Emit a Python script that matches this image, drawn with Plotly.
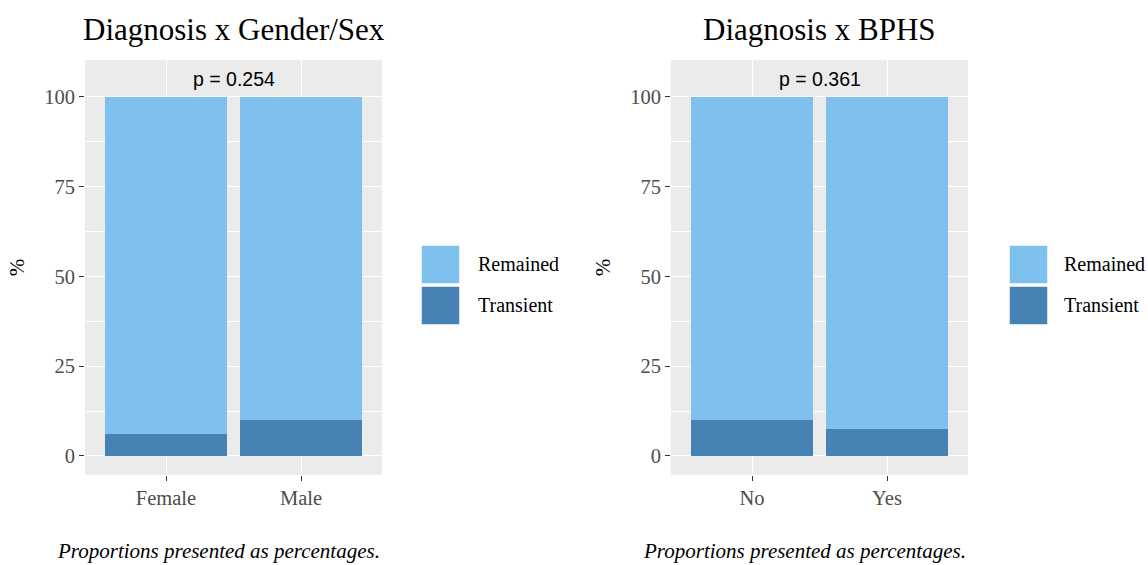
import plotly.graph_objects as go

W, H = 1148, 565

# ---- data ----
titles = ["Diagnosis x Gender/Sex", "Diagnosis x BPHS"]
categories_left = ["Female", "Male"]
categories_right = ["No", "Yes"]
transient_left = [6.0, 10.0]
transient_right = [10.0, 7.4]
remained_left = [100 - v for v in transient_left]
remained_right = [100 - v for v in transient_right]
p_labels = ["p = 0.254", "p = 0.361"]
p_label_y = [105, 105]
y_ticks = [0, 25, 50, 75, 100]
legend_labels = ["Remained", "Transient"]
caption = "Proportions presented as percentages."

C_REM = "#7EC0EE"
C_TRA = "#4682B4"
SERIF = "Liberation Serif, Times New Roman, serif"
SANS = "Liberation Sans, Arial, sans-serif"


def fx(px):
    return px / W


def fy(py):
    return 1 - py / H


panels = [
    dict(x0=85, x1=382, cats=categories_left, rem=remained_left, tra=transient_left, leg_key=421, leg_txt=476),
    dict(x0=671, x1=968, cats=categories_right, rem=remained_right, tra=transient_right, leg_key=1009, leg_txt=1062),
]
PT, PB = 60.2, 474.8

fig = go.Figure()
annotations = []
shapes = []
for i, p in enumerate(panels):
    n = "" if i == 0 else str(i + 1)
    xa, ya = "x" + n, "y" + n
    fig.add_trace(go.Bar(x=p["cats"], y=p["tra"], name=legend_labels[1], marker_color=C_TRA,
                         marker_line_width=0, width=0.9, xaxis=xa, yaxis=ya, showlegend=False))
    fig.add_trace(go.Bar(x=p["cats"], y=p["rem"], name=legend_labels[0], marker_color=C_REM,
                         marker_line_width=0, width=0.9, xaxis=xa, yaxis=ya, showlegend=False))
    axis_common = dict(showline=False, zeroline=False, ticks="outside", ticklen=5, tickwidth=1.1,
                       tickcolor="#333333", tickfont=dict(family=SERIF, size=20.5, color="#4D4D4D"),
                       gridcolor="white", gridwidth=1.2)
    fig.update_layout(**{
        "xaxis" + n: dict(domain=[fx(p["x0"]), fx(p["x1"])], type="category", range=[-0.6, 1.6],
                          anchor=ya, showgrid=True, **axis_common),
        "yaxis" + n: dict(domain=[fy(PB), fy(PT)], range=[-5.25, 110.25], anchor=xa,
                          tickvals=y_ticks, showgrid=True,
                          minor=dict(dtick=12.5, tick0=0, showgrid=True, gridcolor="white", gridwidth=0.6, ticks=""),
                          title=dict(text="%", font=dict(family=SERIF, size=21, color="black"), standoff=13),
                          **axis_common),
    })
    cx = (p["x0"] + p["x1"]) / 2
    annotations.append(dict(text=titles[i], x=fx(cx), y=fy(30), xref="paper", yref="paper",
                            showarrow=False, xanchor="center", yanchor="middle",
                            font=dict(family=SERIF, size=31, color="black")))
    annotations.append(dict(text=p_labels[i], x=0.5, y=p_label_y[i], xref=xa, yref=ya,
                            showarrow=False, xanchor="center", yanchor="middle",
                            font=dict(family=SANS, size=19.5, color="black")))
    annotations.append(dict(text="<i>" + caption + "</i>", x=fx(p["x1"]), y=fy(551), xref="paper", yref="paper",
                            showarrow=False, xanchor="right", yanchor="middle",
                            font=dict(family=SERIF, size=21, color="black")))
    # legend
    for k, (lab, col) in enumerate(zip(legend_labels, [C_REM, C_TRA])):
        ky0 = 245 + k * 41
        shapes.append(dict(type="rect", xref="paper", yref="paper",
                           x0=fx(p["leg_key"]), x1=fx(p["leg_key"] + 39), y0=fy(ky0 + 39), y1=fy(ky0),
                           fillcolor=col, line=dict(color="white", width=1.5)))
        annotations.append(dict(text=lab, x=fx(p["leg_txt"]), y=fy(ky0 + 19), xref="paper", yref="paper",
                                showarrow=False, xanchor="left", yanchor="middle",
                                font=dict(family=SERIF, size=20, color="black")))

fig.update_layout(
    width=W, height=H, barmode="stack", bargap=0.1,
    margin=dict(l=0, r=0, t=0, b=0),
    paper_bgcolor="white", plot_bgcolor="#EBEBEB",
    annotations=annotations, shapes=shapes, showlegend=False,
)

fig.write_html("out.html", config={"displayModeBar": False},
               post_script="document.body.style.margin='0';document.body.style.overflow='hidden';")
